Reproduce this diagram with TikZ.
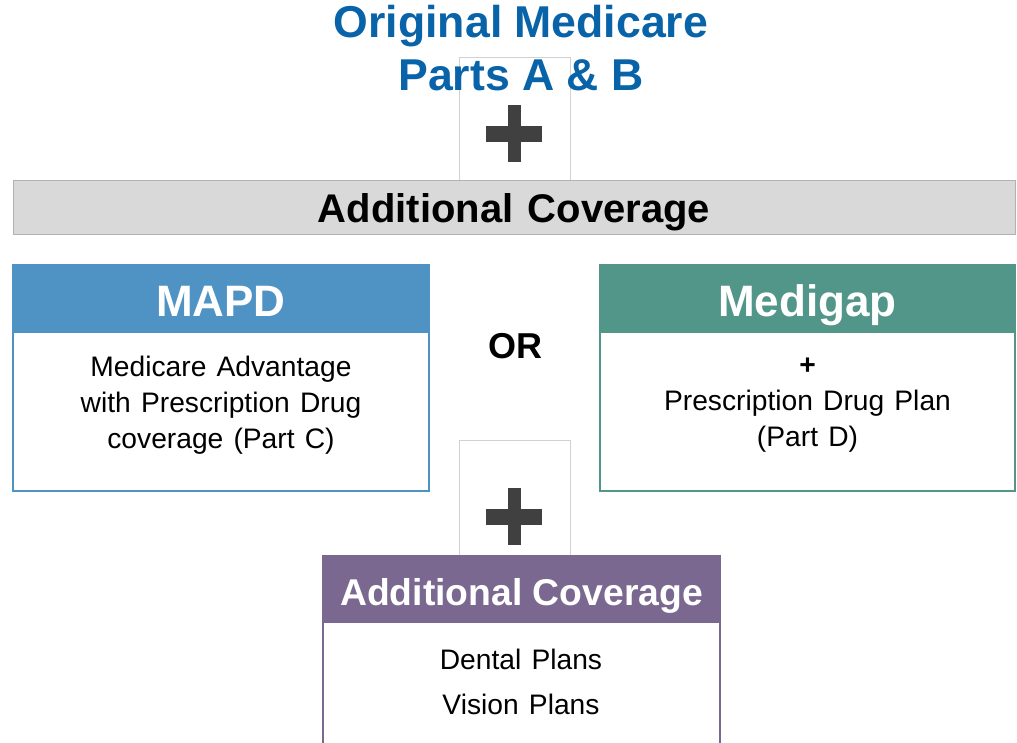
\documentclass[tikz,border=0pt]{standalone}
\usepackage{fontspec}
\setmainfont{Liberation Sans}
\newfontfamily\widefont[WordSpace=1.7]{Liberation Sans}
\newfontfamily\barfont[WordSpace=1.3]{Liberation Sans}
\usepackage{xcolor}
\usetikzlibrary{positioning,calc}
\definecolor{title-blue}{HTML}{0863A8}
\definecolor{mapd-blue}{HTML}{4F93C5}
\definecolor{gap-teal}{HTML}{52968A}
\definecolor{extra-purple}{HTML}{7B6891}
\definecolor{plus-gray}{HTML}{404040}
\definecolor{bar-gray}{HTML}{D9D9D9}
\tikzset{
    plan-box/.style = {draw=#1, fill=white, line width=1.2pt, rectangle, inner sep=0pt},
    plan-head/.style = {fill=#1, text=white, font=\fontsize{44}{48}\selectfont\bfseries, inner sep=0pt,
                        text height=40pt, text depth=4pt},
    plan-text/.style = {align=center, font=\widefont\fontsize{28.2}{36}\selectfont},
    plus-box/.style = {draw=black!18, fill=white, line width=0.8pt, minimum width=111pt, inner sep=0pt},
}
\newcommand{\plusmark}[1]{%
    \fill[plus-gray] ($(#1)+(-28,-8)$) rectangle ($(#1)+(28,8)$);
    \fill[plus-gray] ($(#1)+(-6.5,-28.5)$) rectangle ($(#1)+(6.5,28.5)$);
}

\begin{document}
\begin{tikzpicture}[x=1pt, y=-1pt]
\useasboundingbox (0,0) rectangle (1017,742);
% title and first plus
\node[plus-box, minimum height=123pt] (plus-top) at (514.5,118.5) {};
\node[text=title-blue, align=center, font=\fontsize{44.6}{53}\selectfont\bfseries] (title) at (521,48) {Original Medicare\\Parts A \& B};
\coordinate (plus-top-mark) at (514,133.5);
\plusmark{plus-top-mark}
% grey bar
\node[draw=black!30, fill=bar-gray, line width=0.8pt, minimum width=1002pt, minimum height=54pt, inner sep=0pt,
      text height=34pt, text depth=2.6pt,
      font=\barfont\fontsize{40}{44}\selectfont\bfseries] (coverage) at (514,207) {Additional Coverage};
% the two choices
\node[plan-box=mapd-blue, minimum width=416pt, minimum height=226pt] (mapd) at (221,378) {};
\node[plan-head=mapd-blue, minimum width=416pt, minimum height=68pt, anchor=north] (mapd-head) at (mapd.north) {MAPD};
\node[plan-text] (mapd-text) at (221,405) {Medicare Advantage\\with Prescription Drug\\coverage (Part C)};
\node[font=\fontsize{36}{40}\selectfont\bfseries, anchor=base] (or) at (515,358) {OR};
\node[plan-box=gap-teal, minimum width=415pt, minimum height=226pt] (medigap) at (807.5,378) {};
\node[plan-head=gap-teal, minimum width=415pt, minimum height=68pt, anchor=north] (medigap-head) at (medigap.north) {Medigap};
\node[plan-text] (medigap-text) at (807.5,405) {\textbf{+}\\Prescription Drug Plan\\(Part D)};
% second plus and extras
\node[plus-box, minimum height=115pt] (plus-bottom) at (515,497.5) {};
\coordinate (plus-bottom-mark) at (514,516.5);
\plusmark{plus-bottom-mark}
\node[plan-box=extra-purple, minimum width=397pt, minimum height=220pt, anchor=north] (extra) at (521.5,555) {};
\node[plan-head=extra-purple, minimum width=397pt, minimum height=68pt, anchor=north,
      text height=36pt, text depth=4pt,
      font=\fontsize{37.3}{40}\selectfont\bfseries] (extra-head) at (extra.north) {Additional Coverage};
\node[plan-text, font=\widefont\fontsize{28.2}{45}\selectfont] (extra-text) at (521,681.5) {Dental Plans\\Vision Plans};
\end{tikzpicture}
\end{document}
